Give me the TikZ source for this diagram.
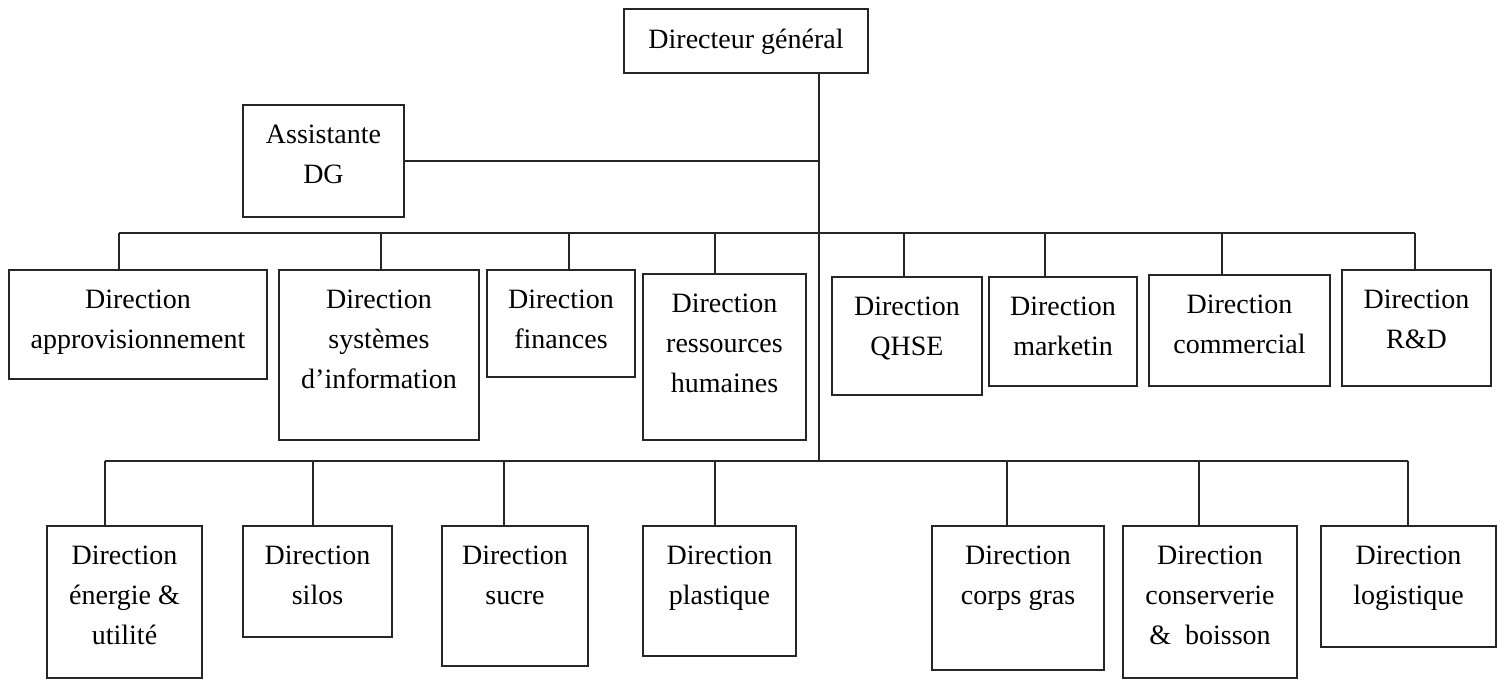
\documentclass[tikz,border=0pt]{standalone}
\usepackage{fontspec}
\setmainfont{Liberation Serif}
\begin{document}
\begin{tikzpicture}[x=1pt,y=-1pt,
  box/.style={draw=black!85, line width=1.5pt, rectangle, inner sep=0pt},
  lbl/.style={anchor=north, yshift=-21pt, inner sep=0pt, align=center,
              font=\fontsize{28}{40}\selectfont},
  link/.style={draw=black!85, line width=1.5pt}]
\useasboundingbox (0,0) rectangle (1507,680);

% box given by its corners (x1,y1) (x2,y2), text set from the top
\newcommand\orgbox[6]{%
  \pgfmathsetmacro\bw{#4-#2}\pgfmathsetmacro\bh{#5-#3}%
  \node[box, minimum width=\bw pt, minimum height=\bh pt,
        label={[lbl]north:{#6}}] (#1) at ({(#2+#4)/2},{(#3+#5)/2}) {};}

% head of the chart
\orgbox{dg}{624}{9}{868}{73}{Directeur général}
\orgbox{asst}{243}{105}{404}{217}{Assistante\\DG}

% first row of directions
\orgbox{appro}{9}{270}{267}{379}{Direction\\approvisionnement}
\orgbox{si}{279}{270}{479}{440}{Direction\\systèmes\\d’information}
\orgbox{fin}{487}{270}{635}{377}{Direction\\finances}
\orgbox{rh}{643}{274}{806}{440}{Direction\\ressources\\humaines}
\orgbox{qhse}{832}{277}{982}{395}{Direction\\QHSE}
\orgbox{mkt}{989}{277}{1137}{386}{Direction\\marketin}
\orgbox{com}{1149}{275}{1330}{386}{Direction\\commercial}
\orgbox{rd}{1342}{270}{1491}{386}{Direction\\R\&D}

% second row of directions
\orgbox{ener}{47}{526}{202}{678}{Direction\\énergie \&\\utilité}
\orgbox{silos}{243}{526}{392}{637}{Direction\\silos}
\orgbox{sucre}{442}{526}{588}{666}{Direction\\sucre}
\orgbox{plast}{643}{526}{796}{656}{Direction\\plastique}
\orgbox{corps}{932}{526}{1104}{670}{Direction\\corps gras}
\orgbox{cons}{1123}{526}{1297}{678}{Direction\\conserverie\\\&\ \ boisson}
\orgbox{logi}{1321}{526}{1496}{647}{Direction\\logistique}

% junction points on the two bars
\coordinate (spine) at (819,461);
\coordinate (a1) at (119,233);  \coordinate (a2) at (381,233);
\coordinate (a3) at (569,233);  \coordinate (a4) at (715,233);
\coordinate (a5) at (904,233);  \coordinate (a6) at (1045,233);
\coordinate (a7) at (1222,233); \coordinate (a8) at (1415,233);
\coordinate (b1) at (105,461);  \coordinate (b2) at (313,461);
\coordinate (b3) at (504,461);  \coordinate (b4) at (715,461);
\coordinate (b5) at (1007,461); \coordinate (b6) at (1199,461);
\coordinate (b7) at (1408,461);

% spine and assistant link
\draw[link] (spine |- dg.south) -- (spine);
\draw[link] (asst.east) -- (asst.east -| spine);

% bars
\draw[link] (a1) -- (a8);
\draw[link] (b1) -- (b7);

% drops to the boxes
\draw[link] (a1) -- (a1 |- appro.north);
\draw[link] (a2) -- (a2 |- si.north);
\draw[link] (a3) -- (a3 |- fin.north);
\draw[link] (a4) -- (a4 |- rh.north);
\draw[link] (a5) -- (a5 |- qhse.north);
\draw[link] (a6) -- (a6 |- mkt.north);
\draw[link] (a7) -- (a7 |- com.north);
\draw[link] (a8) -- (a8 |- rd.north);
\draw[link] (b1) -- (b1 |- ener.north);
\draw[link] (b2) -- (b2 |- silos.north);
\draw[link] (b3) -- (b3 |- sucre.north);
\draw[link] (b4) -- (b4 |- plast.north);
\draw[link] (b5) -- (b5 |- corps.north);
\draw[link] (b6) -- (b6 |- cons.north);
\draw[link] (b7) -- (b7 |- logi.north);
\end{tikzpicture}
\end{document}
